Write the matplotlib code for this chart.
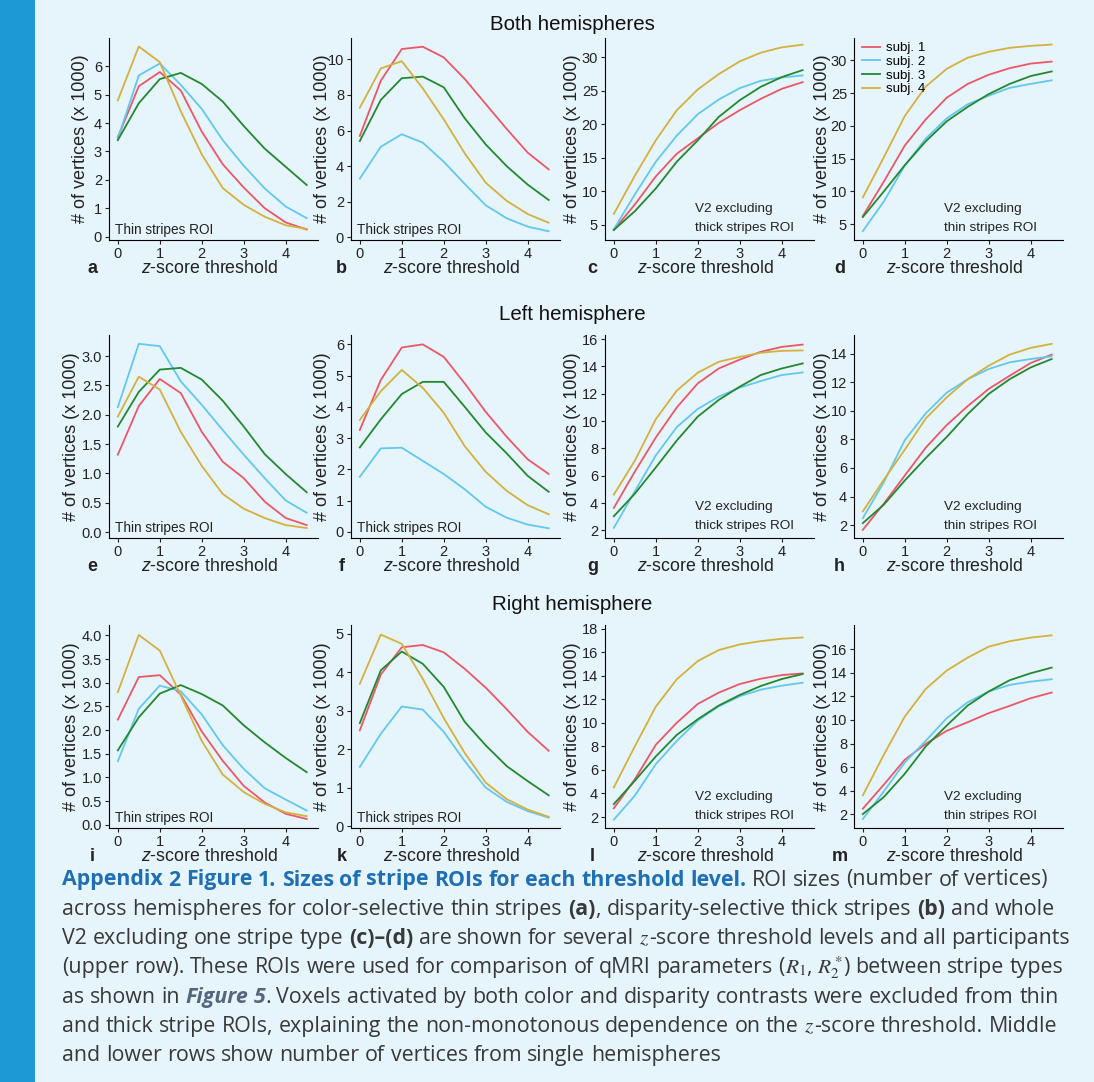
import matplotlib
matplotlib.use("Agg")
import matplotlib.pyplot as plt
from matplotlib.patches import Rectangle
import numpy as np

# z-score thresholds
z = [0, 0.5, 1, 1.5, 2, 2.5, 3, 3.5, 4, 4.5]
subjects = ["subj. 1", "subj. 2", "subj. 3", "subj. 4"]

# number of vertices (x 1000), rows = subj. 1..4
both_thin = [[3.5, 5.3, 5.8, 5.15, 3.7, 2.55, 1.73, 1.0, 0.5, 0.25],
             [3.45, 5.68, 6.1, 5.35, 4.5, 3.4, 2.5, 1.7, 1.06, 0.65],
             [3.4, 4.7, 5.55, 5.77, 5.38, 4.76, 3.9, 3.1, 2.46, 1.82],
             [4.8, 6.7, 6.15, 4.42, 2.9, 1.71, 1.12, 0.7, 0.4, 0.27]]
both_thick = [[5.7, 8.8, 10.58, 10.71, 10.11, 8.9, 7.49, 6.09, 4.76, 3.82],
              [3.3, 5.09, 5.79, 5.32, 4.25, 3.0, 1.8, 1.07, 0.6, 0.34],
              [5.41, 7.72, 8.94, 9.03, 8.43, 6.69, 5.22, 4.0, 2.96, 2.1],
              [7.28, 9.49, 9.9, 8.37, 6.63, 4.72, 3.07, 2.05, 1.31, 0.82]]
both_v2_thick = [[4.2, 8.0, 12.2, 15.6, 17.9, 20.2, 22.1, 23.8, 25.3, 26.3],
                 [4.3, 9.5, 14.4, 18.3, 21.5, 23.7, 25.4, 26.5, 27.0, 27.3],
                 [4.2, 7.0, 10.4, 14.4, 17.6, 21.1, 23.6, 25.6, 27.05, 28.1],
                 [6.6, 12.3, 17.6, 22.1, 25.2, 27.5, 29.4, 30.7, 31.5, 31.9]]
both_v2_thin = [[6.26, 11.5, 17.0, 21.0, 24.3, 26.4, 27.8, 28.8, 29.5, 29.8],
                [3.95, 8.47, 13.96, 18.07, 21.15, 23.3, 24.6, 25.8, 26.4, 26.95],
                [6.1, 10.0, 14.0, 17.65, 20.7, 22.9, 24.85, 26.4, 27.6, 28.3],
                [9.1, 15.2, 21.5, 26.0, 28.7, 30.4, 31.3, 31.9, 32.2, 32.4]]

left_thin = [[1.32, 2.15, 2.61, 2.37, 1.71, 1.2, 0.92, 0.52, 0.24, 0.12],
             [2.13, 3.21, 3.17, 2.57, 2.17, 1.74, 1.32, 0.92, 0.54, 0.33],
             [1.8, 2.39, 2.77, 2.8, 2.6, 2.24, 1.8, 1.33, 0.99, 0.68],
             [1.97, 2.65, 2.43, 1.71, 1.13, 0.65, 0.4, 0.24, 0.12, 0.07]]
left_thick = [[3.26, 4.86, 5.9, 6.0, 5.6, 4.75, 3.84, 3.04, 2.32, 1.85],
              [1.76, 2.67, 2.69, 2.27, 1.85, 1.36, 0.8, 0.45, 0.23, 0.11],
              [2.7, 3.6, 4.41, 4.8, 4.8, 4.0, 3.18, 2.51, 1.79, 1.28],
              [3.58, 4.5, 5.18, 4.61, 3.81, 2.74, 1.92, 1.31, 0.85, 0.56]]
left_v2_thick = [[3.65, 6.3, 8.8, 11.0, 12.76, 13.85, 14.5, 15.07, 15.43, 15.6],
                 [2.19, 4.86, 7.49, 9.56, 10.89, 11.79, 12.45, 12.93, 13.37, 13.56],
                 [3.04, 4.69, 6.61, 8.58, 10.33, 11.55, 12.52, 13.37, 13.85, 14.22],
                 [4.62, 7.1, 10.14, 12.23, 13.54, 14.34, 14.7, 15.0, 15.14, 15.17]]
left_v2_thin = [[1.67, 3.5, 5.47, 7.42, 9.0, 10.33, 11.53, 12.45, 13.34, 13.93],
                [2.49, 5.0, 7.94, 9.82, 11.27, 12.21, 12.92, 13.39, 13.62, 13.81],
                [2.14, 3.43, 5.12, 6.69, 8.17, 9.77, 11.18, 12.21, 13.03, 13.62],
                [2.96, 5.17, 7.28, 9.46, 10.94, 12.21, 13.15, 13.93, 14.4, 14.68]]

right_thin = [[2.22, 3.12, 3.16, 2.75, 1.97, 1.35, 0.82, 0.47, 0.23, 0.12],
              [1.34, 2.45, 2.94, 2.82, 2.33, 1.68, 1.18, 0.77, 0.53, 0.3],
              [1.57, 2.27, 2.77, 2.95, 2.76, 2.52, 2.1, 1.74, 1.41, 1.11],
              [2.8, 4.01, 3.68, 2.73, 1.77, 1.06, 0.69, 0.44, 0.26, 0.18]]
right_thick = [[2.49, 3.94, 4.65, 4.71, 4.52, 4.09, 3.6, 3.04, 2.45, 1.96],
               [1.54, 2.4, 3.11, 3.03, 2.45, 1.69, 1.0, 0.63, 0.39, 0.22],
               [2.68, 4.05, 4.54, 4.22, 3.62, 2.71, 2.1, 1.56, 1.17, 0.8],
               [3.7, 4.98, 4.74, 3.83, 2.81, 1.9, 1.13, 0.7, 0.43, 0.24]]
right_v2_thick = [[2.74, 5.2, 8.13, 10.0, 11.6, 12.56, 13.29, 13.74, 14.05, 14.19],
                  [1.78, 3.81, 6.49, 8.46, 10.19, 11.4, 12.25, 12.81, 13.15, 13.4],
                  [3.1, 5.08, 7.14, 8.97, 10.3, 11.46, 12.36, 13.12, 13.71, 14.14],
                  [4.51, 7.99, 11.37, 13.69, 15.24, 16.17, 16.65, 16.93, 17.13, 17.24]]
right_v2_thin = [[2.46, 4.5, 6.62, 7.97, 9.08, 9.81, 10.58, 11.2, 11.85, 12.33],
                 [1.58, 3.93, 6.39, 8.23, 10.15, 11.51, 12.42, 12.98, 13.26, 13.46],
                 [2.0, 3.45, 5.43, 7.75, 9.53, 11.23, 12.42, 13.38, 13.97, 14.45],
                 [3.59, 7.04, 10.29, 12.64, 14.2, 15.3, 16.23, 16.69, 17.0, 17.19]]

row_titles = ["Both hemispheres", "Left hemisphere", "Right hemisphere"]
roi_labels = ["Thin stripes ROI", "Thick stripes ROI",
              "V2 excluding\nthick stripes ROI", "V2 excluding\nthin stripes ROI"]
panel_letters = ["a", "b", "c", "d", "e", "f", "g", "h", "i", "k", "l", "m"]

colors = ["#EC5766", "#62C8EE", "#23882F", "#D4B13E"]
bg = "#E6F4FB"

plt.rcParams["font.family"] = ["Liberation Sans", "DejaVu Sans"]
plt.rcParams["mathtext.fontset"] = "custom"
plt.rcParams["mathtext.rm"] = "Liberation Sans"
plt.rcParams["mathtext.it"] = "Liberation Sans:italic"

W, H = 1094, 1082
fig = plt.figure(figsize=(W / 100, H / 100), dpi=100, facecolor=bg)
fig.patches.append(Rectangle((0, 0), 35 / W, 1, transform=fig.transFigure,
                             facecolor="#1C9AD6", edgecolor="none", zorder=0))

panels = [both_thin, both_thick, both_v2_thick, both_v2_thin,
          left_thin, left_thick, left_v2_thick, left_v2_thin,
          right_thin, right_thick, right_v2_thick, right_v2_thin]
yticks = [np.arange(0, 7, 1), np.arange(0, 11, 2), np.arange(5, 31, 5), np.arange(5, 31, 5),
          np.arange(0, 3.01, 0.5), np.arange(0, 7, 1), np.arange(2, 17, 2), np.arange(2, 15, 2),
          np.arange(0, 4.01, 0.5), np.arange(0, 6, 1), np.arange(2, 19, 2), np.arange(2, 17, 2)]
ylims = [(-0.12, 7.0), (-0.15, 11.2), (2.7, 32.9), (2.6, 33.4),
         (-0.1, 3.36), (-0.2, 6.3), (1.45, 16.3), (1.1, 15.3),
         (-0.07, 4.22), (-0.05, 5.23), (1.07, 18.3), (0.82, 18.07)]

row_top = [38, 335, 625]
row_bot = [240, 538, 828]
col_left = [109, 351, 605, 854]
ylab_x = [-0.095, -0.097, -0.115, -0.108]
letter_x = [-0.08, -0.045, -0.06, -0.07]

for i, data in enumerate(panels):
    r, c = divmod(i, 4)
    ax = fig.add_axes([col_left[c] / W, 1 - row_bot[r] / H, 209 / W,
                       (row_bot[r] - row_top[r]) / H])
    ax.set_facecolor("none")
    for k in range(4):
        ax.plot(z, data[k], color=colors[k], lw=1.3, label=subjects[k])
    ax.set_xlim(-0.21, 4.77)
    ax.set_ylim(*ylims[i])
    ax.set_xticks([0, 1, 2, 3, 4])
    ax.set_yticks(yticks[i])
    if r > 0 and c == 0:
        ax.set_yticklabels(["%.1f" % v for v in yticks[i]])
    else:
        ax.set_yticklabels(["%d" % v for v in yticks[i]])
    for s in ["top", "right"]:
        ax.spines[s].set_visible(False)
    ax.tick_params(labelsize=10.5, length=3, width=0.8, pad=2, colors="#222222")
    ax.set_ylabel("# of vertices (x 1000)", fontsize=13, color="#222222")
    yx = ylab_x[c]
    if r > 0 and c == 0:
        yx = -0.14
    ax.yaxis.set_label_coords(yx, 0.5)
    ax.text(0.48, -0.14, "$z$-score threshold", transform=ax.transAxes,
            ha="center", va="center", fontsize=12.8, color="#222222")
    ax.text(letter_x[c], -0.14, panel_letters[i], transform=ax.transAxes,
            ha="center", va="center", fontsize=13, fontweight="bold", color="#222222")
    if c < 2:
        ax.text(0.03, 0.05, roi_labels[c], transform=ax.transAxes,
                ha="left", va="center", fontsize=9.8, color="#222222")
    else:
        ax.text(0.43, 0.105, roi_labels[c], transform=ax.transAxes,
                ha="left", va="center", fontsize=9.7, color="#222222", linespacing=1.8)
    if i == 3:
        ax.legend(loc="upper left", bbox_to_anchor=(0.0, 1.02), frameon=False,
                  fontsize=9.6, handlelength=1.35, handletextpad=0.45,
                  labelspacing=0.1, borderaxespad=0.2)

for r, t in enumerate(row_titles):
    y = [25, 315, 604][r]
    fig.text(572 / W, 1 - y / H, t, ha="center", va="center", fontsize=14.8, color="#111111")

# caption
rend = fig.canvas.get_renderer()
blue = "#1F6FB5"
gray = "#383838"
fs = 15.4
cap_font = ["Open Sans", "Noto Sans", "DejaVu Sans"]
title_st = dict(color=blue, fontweight="bold", family=cap_font)
body = dict(color=gray, family=cap_font)
bold = dict(color=gray, fontweight="bold", family=cap_font)
ref = dict(color="#56657E", fontweight="bold", style="italic", family=cap_font)
math = dict(color=gray, math_fontfamily="stix", family=cap_font)

caption = [
    [("Appendix 2 Figure 1. Sizes of stripe ROIs for each threshold level.", title_st),
     (" ROI sizes (number of vertices)", body)],
    [("across hemispheres for color-selective thin stripes ", body), ("(a)", bold),
     (", disparity-selective thick stripes ", body), ("(b)", bold), (" and whole", body)],
    [("V2 excluding one stripe type ", body), ("(c)\u2013(d)", bold),
     (" are shown for several ", body), ("$z$", math),
     ("-score threshold levels and all participants", body)],
    [("(upper row). These ROIs were used for comparison of qMRI parameters (", body),
     ("$R_1$", math), (", ", body), ("$R_2^*$", math), (") between stripe types", body)],
    [("as shown in ", body), ("Figure 5", ref),
     (". Voxels activated by both color and disparity contrasts were excluded from thin", body)],
    [("and thick stripe ROIs, explaining the non-monotonous dependence on the ", body),
     ("$z$", math), ("-score threshold. Middle", body)],
    [("and lower rows show number of vertices from single hemispheres", body)],
]


def width_px(s, st):
    t = fig.text(0, 0, s, fontsize=fs, **st)
    w = t.get_window_extent(renderer=rend).width
    t.remove()
    return w


for n, line in enumerate(caption):
    x = 62
    y = 1 - (880 + 29.3 * n) / H
    for seg, st in line:
        parts = seg.split(" ")
        sp = width_px("a a", st) - width_px("aa", st)
        for j, p in enumerate(parts):
            if j > 0:
                x += sp
            if p:
                t = fig.text(x / W, y, p, fontsize=fs, ha="left", va="center", **st)
                x += t.get_window_extent(renderer=rend).width

fig.savefig("out.png", dpi=100, facecolor=bg)
